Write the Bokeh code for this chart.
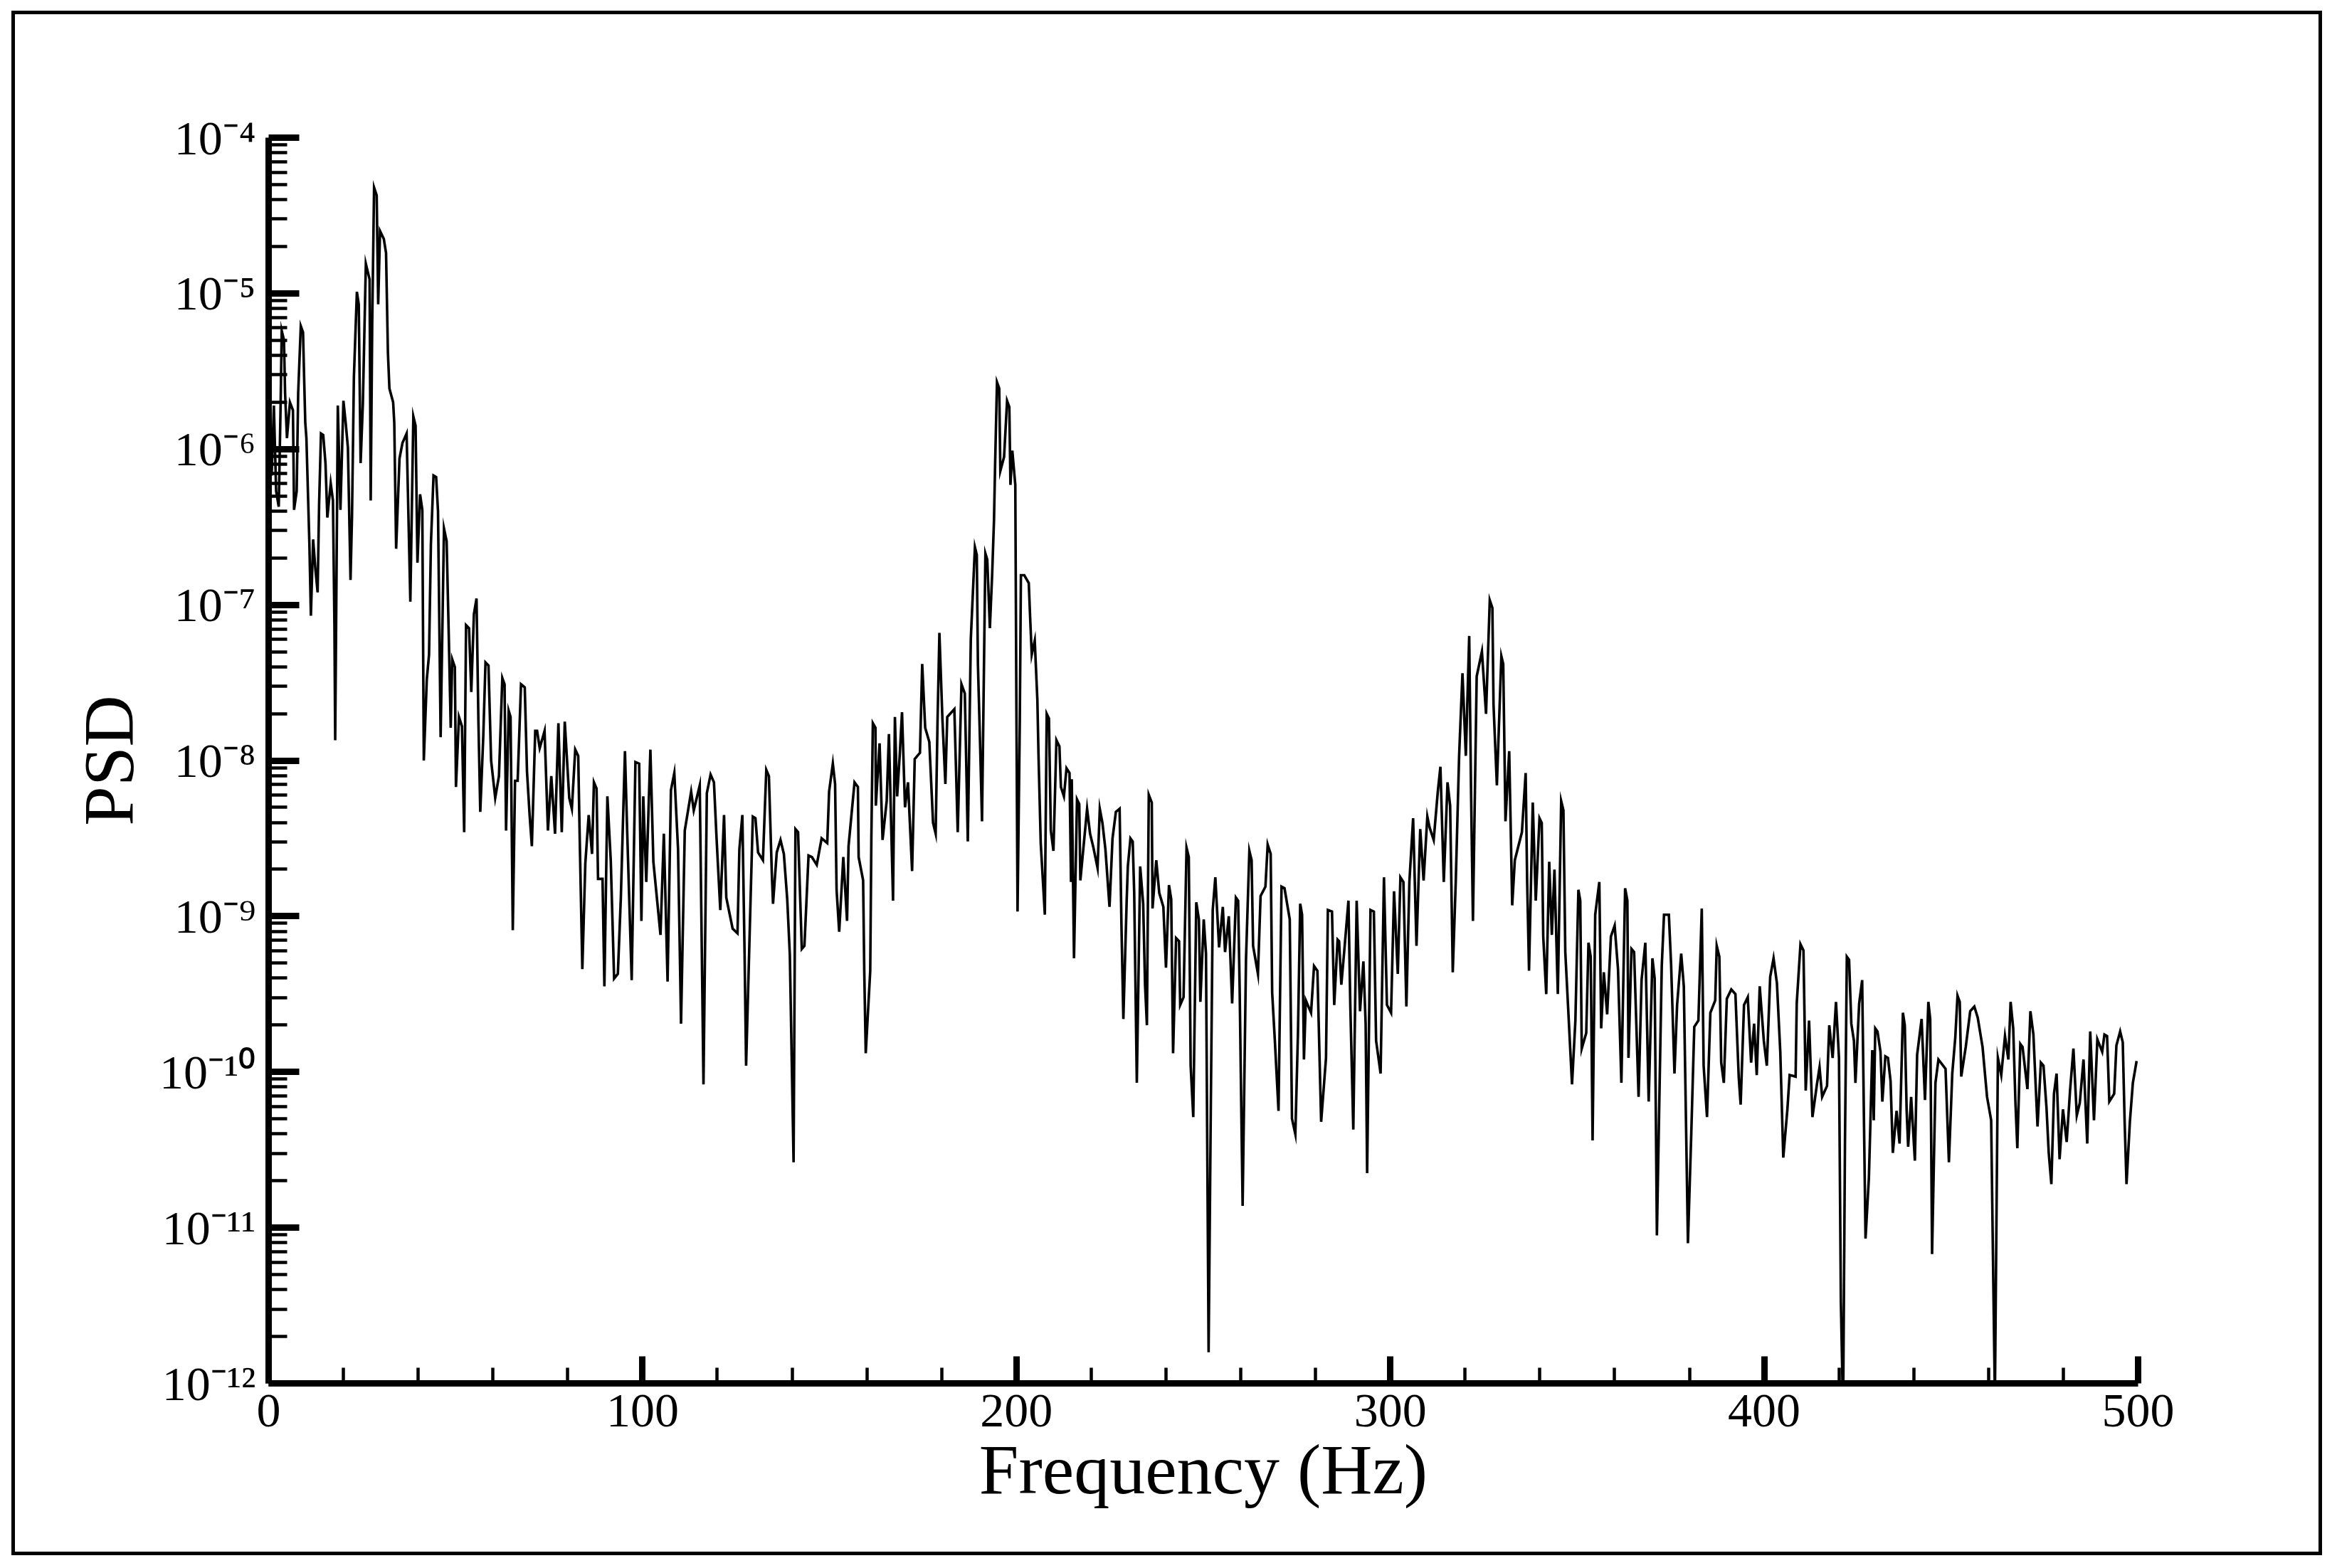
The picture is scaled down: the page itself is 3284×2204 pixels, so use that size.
from bokeh.plotting import figure
from bokeh.layouts import column
from bokeh.models import Range1d, FixedTicker
from bokeh.embed import file_html
from bokeh.resources import INLINE

freq_hz = [
 0.1,0.8,1.4,2.0,2.7,3.2,3.5,4.1,4.4,4.9,5.7,6.5,6.8,7.5,7.9,8.6,9.2,9.5,9.8,10.1,10.9,11.3,11.9,12.5,13.1,13.5,14.0,14.6,15.2,15.7,
 16.6,17.2,17.6,17.8,18.2,18.5,19.2,20.0,20.6,21.2,21.9,22.3,22.8,23.6,24.1,24.6,25.2,26.0,27.0,27.3,27.7,28.2,28.9,29.3,29.8,30.8,31.4,31.9,32.3,33.3,
 33.6,34.1,35.0,35.8,36.9,37.9,38.7,39.3,39.8,40.5,41.1,41.5,42.3,42.9,43.4,44.1,44.8,45.3,46.0,46.9,47.6,48.2,48.7,49.1,49.8,50.1,50.9,51.7,52.3,52.8,
 53.6,54.2,54.9,55.6,56.1,56.6,57.4,58.0,58.8,59.5,60.6,61.6,62.5,63.1,63.5,64.2,64.7,65.3,65.9,66.6,67.5,68.5,69.1,69.8,70.4,71.3,
 71.8,72.5,73.8,74.7,75.6,76.6,77.5,78.4,79.2,80.4,81.1,82.0,82.8,83.2,83.9,84.7,85.6,86.5,87.0,87.7,88.1,89.3,89.8,90.6,91.5,92.4,93.4,94.2,95.3,95.9,
 97.1,98.1,99.1,99.7,100.2,101.0,102.1,102.9,104.8,105.7,106.7,107.6,108.5,109.5,110.3,111.3,113.0,113.7,115.3,116.3,117.2,118.2,119.1,119.8,120.8,121.8,122.4,124.1,125.4,125.9,
 126.7,127.3,127.7,128.9,129.5,130.2,130.9,132.2,133.1,133.8,134.6,134.9,135.9,136.9,137.8,138.7,139.4,140.4,140.9,141.6,142.2,142.6,
 143.3,144.4,145.3,146.6,147.9,149.4,149.9,150.9,151.5,151.9,152.6,153.7,154.7,155.1,156.7,157.6,157.8,159.0,159.3,159.7,160.9,161.2,161.6,162.3,162.4,163.4,164.2,165.3,165.9,167.0,
 167.5,168.1,168.8,169.4,170.2,171.0,172.1,172.8,174.2,174.8,175.6,176.7,177.7,178.4,178.9,179.4,180.2,181.0,181.5,183.4,184.3,185.3,186.2,187.0,187.8,188.9,189.4,189.7,190.3,190.8,
 191.7,192.2,192.9,193.5,194.0,194.3,194.8,195.4,195.7,196.7,197.5,198.1,198.4,198.9,199.7,200.0,200.3,200.9,201.2,202.1,203.3,203.7,204.1,204.9,205.6,205.9,206.5,207.6,208.1,208.7,
 209.2,209.9,210.7,211.5,211.9,212.7,213.4,214.2,214.6,
 214.8,215.4,216.2,216.8,217.1,218.9,219.7,220.6,221.7,222.3,223.0,223.8,224.9,225.7,226.6,227.6,228.1,228.6,229.5,229.8,230.5,231.1,231.5,232.2,233.1,233.9,234.4,234.9,235.4,236.2,
 236.4,237.4,238.2,239.3,240.0,240.8,241.4,241.9,242.7,243.5,243.8,244.7,245.5,246.1,246.6,247.3,248.1,248.8,249.2,250.1,250.7,251.4,252.0,252.5,253.2,253.8,254.2,255.2,255.8,256.8,
 257.7,258.7,259.3,259.7,260.5,261.4,262.3,262.9,263.3,264.6,265.3,266.6,267.2,268.0,268.4,269.1,270.1,270.9,271.7,273.1,273.7,274.6,275.3,275.9,276.4,276.9,277.4,278.8,279.6,280.5,
 281.5,282.8,283.3,284.4,285.0,285.9,
 286.3,286.9,287.8,288.8,289.3,290.1,291.0,291.9,292.8,293.4,293.8,294.7,295.6,296.2,297.4,298.3,299.1,300.2,301.0,302.0,302.7,303.5,304.3,305.1,306.1,307.0,308.0,308.9,309.9,310.5,
 311.6,312.7,313.4,314.3,315.3,316.0,316.7,317.5,318.4,319.3,320.2,321.1,321.6,322.1,323.1,324.5,325.6,326.6,327.3,327.6,328.5,329.7,330.2,330.8,331.8,332.6,333.3,335.2,336.2,336.6,
 337.1,338.1,338.9,339.9,340.5,340.9,341.7,342.5,343.2,343.9,344.8,345.7,346.3,346.8,347.9,348.6,349.5,350.3,350.8,351.2,352.4,353.0,353.6,354.1,354.8,355.9,356.4,357.1,
 358.0,359.0,360.0,360.9,361.8,362.8,363.4,363.7,364.5,365.2,366.4,367.2,368.2,369.1,370.1,370.7,371.3,372.6,373.2,374.5,375.1,376.0,376.7,377.8,378.5,379.6,380.5,381.3,382.4,383.3,
 383.8,384.7,385.6,386.9,387.3,388.0,388.5,389.2,390.0,391.2,392.3,393.2,393.7,394.6,395.6,396.5,397.3,398.0,398.8,399.9,400.7,401.6,402.5,403.4,404.3,405.1,406.2,406.8,408.4,408.7,
 409.7,410.5,411.1,412.0,412.9,414.1,414.8,415.5,416.8,417.4,418.3,419.2,420.0,420.5,421.1,421.6,422.1,422.7,423.3,424.0,424.4,425.4,426.2,426.7,427.1,428.0,428.4,428.9,
 429.3,429.7,430.3,431.1,431.6,432.4,433.1,433.8,434.4,435.4,436.2,437.1,437.6,438.1,438.5,439.3,440.3,440.9,442.1,443.0,443.9,444.4,444.9,445.8,446.6,448.5,449.4,450.3,451.1,451.7,
 452.3,452.7,453.9,455.1,456.2,457.1,458.4,459.6,460.7,461.2,461.7,462.5,463.4,464.4,465.3,465.9,466.6,467.2,467.7,468.5,469.1,470.4,471.2,472.0,473.1,474.0,474.7,475.5,476.1,476.8,
 477.5,478.2,479.0,479.9,480.9,481.8,482.7,483.6,484.4,485.4,486.4,487.2,488.2,489.1,490.4,491.0,491.7,492.3,493.6,494.2,495.2,495.9,496.4,496.9,497.8,498.6,499.6,
]
psd_exponent = [
 -5.83,-6.17,-5.72,-6.27,-6.37,-5.72,-5.24,-5.30,-5.64,-5.93,-5.70,-5.75,-6.39,-6.27,-5.64,-5.21,-5.25,-5.55,-5.83,-5.93,-6.61,-7.07,-6.58,-6.77,-6.92,-6.35,-5.90,-5.91,-6.09,-6.44,
 -6.22,-6.33,-7.14,-7.87,-6.67,-5.72,-6.39,-5.69,-5.83,-5.99,-6.84,-6.43,-5.54,-4.99,-5.07,-6.09,-5.71,-4.81,-4.91,-6.33,-5.20,-4.32,-4.37,-5.07,-4.60,-4.65,-4.74,-5.38,-5.61,-5.70,
 -5.83,-6.64,-6.06,-5.96,-5.90,-6.98,-5.79,-5.85,-6.73,-6.29,-6.39,-8.00,-7.48,-7.32,-6.61,-6.17,-6.18,-6.40,-7.85,-6.51,-6.59,-7.22,-7.79,-7.35,-7.40,-8.17,-7.72,-7.78,-8.46,-7.13,
 -7.15,-7.56,-7.06,-6.96,-7.74,-8.33,-7.85,-7.37,-7.39,-8.00,-8.24,-8.10,-7.47,-7.51,-8.45,-7.68,-7.72,-9.09,-8.13,-8.13,-7.51,-7.53,-8.07,-8.35,-8.55,-7.81,
 -7.81,-7.92,-7.81,-8.45,-8.10,-8.47,-7.76,-8.46,-7.75,-8.24,-8.31,-7.93,-7.97,-8.50,-9.34,-8.66,-8.35,-8.60,-8.14,-8.18,-8.76,-8.76,-9.45,-8.23,-8.64,-9.40,-9.37,-8.88,-7.94,-8.46,
 -9.41,-8.01,-8.02,-9.03,-8.23,-8.78,-7.93,-8.65,-9.12,-8.47,-9.42,-8.19,-8.08,-8.57,-9.69,-8.45,-8.20,-8.32,-8.16,-10.08,-8.21,-8.09,-8.14,-8.50,-8.96,-8.35,-8.88,-9.08,-9.11,-8.57,
 -8.35,-9.25,-9.96,-8.89,-8.36,-8.37,-8.59,-8.64,-8.06,-8.10,-8.74,-8.92,-8.59,-8.51,-8.60,-8.89,-9.25,-10.58,-8.44,-8.46,-8.91,-9.21,
 -9.19,-8.61,-8.62,-8.67,-8.50,-8.53,-8.20,-8.02,-8.15,-8.83,-9.10,-8.62,-9.03,-8.55,-8.14,-8.17,-8.62,-8.77,-9.35,-9.88,-9.35,-8.50,-7.76,-7.79,-8.29,-7.89,-8.51,-8.26,-7.83,-8.90,
 -7.72,-8.23,-7.96,-7.69,-8.30,-8.14,-8.71,-7.99,-7.95,-7.38,-7.79,-7.88,-8.40,-8.47,-7.75,-7.18,-7.73,-8.15,-7.72,-7.67,-8.46,-7.51,-7.57,-8.52,-7.22,-6.63,-6.68,-7.38,-7.91,-8.39,
 -6.67,-6.71,-7.15,-6.81,-6.46,-6.10,-5.57,-5.61,-6.14,-6.05,-5.69,-5.73,-6.23,-6.01,-6.23,-7.69,-8.97,-7.75,-6.81,-6.81,-6.86,-7.10,-7.32,-7.23,-7.61,-7.96,-8.53,-8.99,-7.70,-7.73,
 -8.45,-8.58,-7.87,-7.91,-8.17,-8.23,-8.05,-8.08,-8.78,
 -8.12,-9.27,-8.25,-8.28,-8.77,-8.31,-8.47,-8.56,-8.69,-8.31,-8.40,-8.57,-8.94,-8.50,-8.33,-8.31,-9.07,-9.66,-8.89,-8.68,-8.50,-8.52,-8.85,-10.07,-8.68,-8.92,-9.44,-9.70,-8.22,-8.27,
 -8.95,-8.64,-8.85,-8.94,-9.33,-8.80,-8.89,-9.88,-9.14,-9.16,-9.57,-9.52,-8.56,-8.62,-9.96,-10.29,-8.91,-9.02,-9.55,-9.02,-9.24,-11.80,-10.20,-8.96,-8.75,-9.02,-9.20,-8.94,-9.23,-9.00,
 -9.56,-8.88,-8.90,-9.46,-10.86,-9.28,-8.58,-8.64,-9.19,-9.37,-8.87,-8.81,-8.54,-8.60,-9.49,-9.79,-10.25,-8.81,-8.82,-9.02,-10.30,-10.40,-9.75,-8.92,-8.99,-9.92,-9.54,-9.62,-9.32,-9.35,
 -10.32,-9.91,-8.96,-8.97,-9.57,-9.15,
 -9.16,-9.44,-9.19,-8.90,-9.57,-10.37,-8.90,-9.61,-9.29,-9.69,-10.65,-8.96,-8.97,-9.80,-10.01,-8.75,-9.57,-9.62,-8.84,-9.37,-8.75,-8.78,-9.58,-8.78,-8.37,-9.19,-8.44,-8.77,-8.36,-8.43,
 -8.51,-8.20,-8.04,-8.78,-8.14,-8.29,-9.36,-8.78,-7.97,-7.44,-7.97,-7.20,-8.21,-9.03,-7.46,-7.30,-7.70,-6.97,-7.02,-7.64,-8.16,-7.33,-7.38,-8.39,-7.94,-8.93,-8.64,-8.46,-8.08,-8.78,
 -9.35,-8.27,-8.90,-8.37,-8.40,-9.13,-9.50,-8.65,-9.12,-8.70,-9.50,-8.26,-8.32,-9.23,-9.75,-10.08,-9.67,-8.83,-8.90,-9.85,-9.75,-9.17,-9.26,-10.44,-8.99,-8.78,-9.72,-9.36,
 -9.63,-9.13,-9.06,-9.34,-10.07,-8.82,-8.90,-9.91,-9.21,-9.23,-10.16,-9.41,-9.17,-10.19,-9.27,-9.40,-11.05,-9.32,-8.99,-8.99,-9.31,-10.01,-9.57,-9.24,-9.45,-11.10,-10.39,-9.71,-9.67,-8.95,
 -9.96,-10.29,-9.62,-9.54,-9.19,-9.26,-9.94,-10.07,-9.53,-9.47,-9.50,-10.04,-10.21,-9.57,-9.52,-9.94,-9.69,-10.02,-9.45,-9.80,-9.96,-9.39,-9.27,-9.43,-9.87,-10.55,-10.24,-10.02,-10.03,-9.56,
 -9.18,-9.22,-10.12,-9.67,-10.29,-10.08,-9.97,-10.16,-10.09,-9.70,-9.91,-9.55,-9.91,-11.47,-12.20,-10.46,-9.26,-9.28,-9.69,-9.80,-10.07,-9.56,-9.41,-10.35,-11.07,-10.68,-10.33,-9.86,
 -10.31,-9.72,-9.74,-9.87,-10.19,-9.90,-9.91,-10.06,-10.52,-10.25,-10.46,-9.62,-9.70,-10.25,-10.48,-10.16,-10.57,-9.89,-9.66,-10.18,-9.55,-9.66,-11.17,-10.07,-9.92,-9.98,-10.58,-10.01,-9.78,-9.51,
 -9.55,-10.03,-9.84,-9.61,-9.58,-9.65,-9.84,-10.16,-10.31,-11.22,-12.10,-9.91,-10.02,-9.77,-9.92,-9.55,-9.72,-10.20,-10.49,-9.82,-9.84,-10.11,-9.61,-9.76,-10.35,-9.94,-9.96,-10.23,-10.52,-10.72,
 -10.14,-10.01,-10.56,-10.24,-10.45,-10.12,-9.85,-10.28,-10.20,-9.92,-10.46,-9.74,-10.31,-9.79,-9.87,-9.76,-9.77,-10.19,-10.14,-9.83,-9.74,-9.81,-10.32,-10.72,-10.32,-10.07,-9.93,
]
x_major = [0, 100, 200, 300, 400, 500]
x_minor = [20, 40, 60, 80, 120, 140, 160, 180, 220, 240, 260, 280, 320, 340, 360, 380, 420, 440, 460, 480]
y_decades = [4, 5, 6, 7, 8, 9, 10, 11, 12]
y_tick_labels = ["10⁻⁴", "10⁻⁵", "10⁻⁶", "10⁻⁷", "10⁻⁸", "10⁻⁹", "10⁻¹⁰", "10⁻¹¹", "10⁻¹²"]
x_title = "Frequency (Hz)"
y_title = "PSD"

FONT = "Liberation Serif"
n = min(len(freq_hz), len(psd_exponent))
psd = [10.0 ** e for e in psd_exponent[:n]]

LEFT, TOP = 356, 173
CW, CH = 3237, 2161
FW, FH = 2627, 1751
p = figure(output_backend="svg", toolbar_location=None, y_axis_type="log",
           frame_width=FW, frame_height=FH,
           min_border_left=LEFT, min_border_right=CW - LEFT - FW, min_border_top=TOP, min_border_bottom=CH - TOP - FH,
           x_range=Range1d(0, 500), y_range=Range1d(1e-12, 1e-4),
           background_fill_color="white", border_fill_color="white", outline_line_color=None)
p.grid.visible = False

p.line(freq_hz[:n], psd, line_color="black", line_width=3.6, line_join="miter")

ax, ay = p.xaxis[0], p.yaxis[0]
ax.ticker = FixedTicker(ticks=x_major, minor_ticks=x_minor)
y_major = [float(f"1e-{d}") for d in y_decades]
y_minor = [m * 10.0 ** -d for d in y_decades[1:] for m in range(2, 10)]
ay.ticker = FixedTicker(ticks=y_major, minor_ticks=y_minor)
ay.major_label_overrides = dict(zip(y_major, y_tick_labels))

for a in (ax, ay):
    a.axis_line_width = 9
    a.axis_line_color = "black"
    a.major_tick_line_color = "black"
    a.minor_tick_line_color = "black"
    a.major_tick_line_width = 9
    a.minor_tick_line_width = 4.5
    a.major_tick_out = 0
    a.minor_tick_out = 0
    a.axis_label_text_font = FONT
    a.axis_label_text_font_style = "normal"
    a.axis_label_text_font_size = "100px"
    a.axis_label_text_color = "black"
    a.major_label_text_font = FONT
    a.major_label_text_color = "black"
    a.major_label_text_font_size = "68px"

ax.major_tick_in = 38
ax.minor_tick_in = 22
ax.major_label_standoff = 16
ax.axis_label = x_title
ax.axis_label_standoff = 2

ay.major_tick_in = 43
ay.minor_tick_in = 26
ay.major_label_standoff = 18
ay.axis_label = y_title
ay.axis_label_standoff = 13

box = column(p, styles={"border": "5px solid black", "margin": "15px 0 0 16px", "width": "fit-content"})
open("out.html", "w").write(file_html(box, INLINE))
